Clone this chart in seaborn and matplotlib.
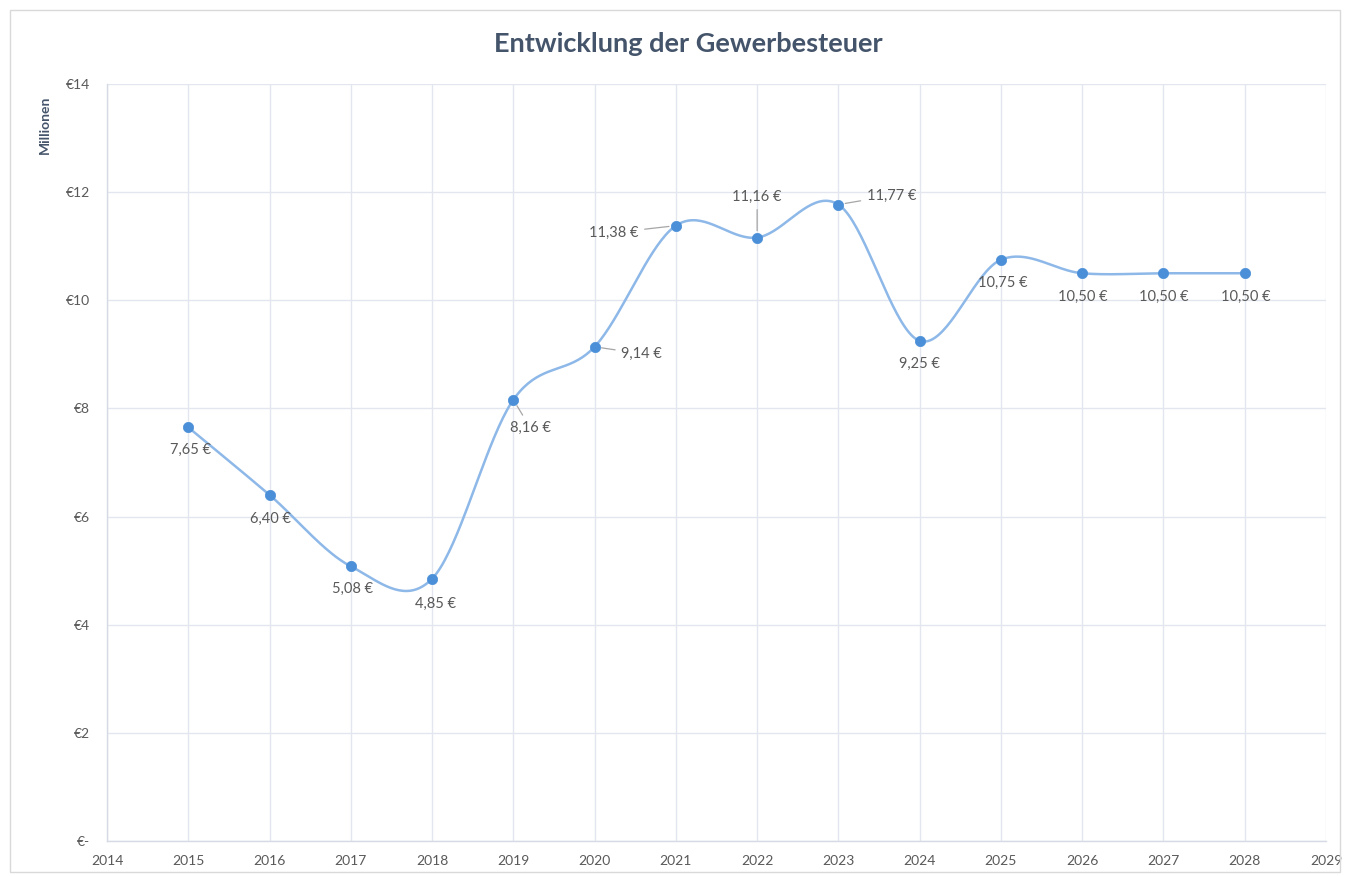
import numpy as np
import pandas as pd
import matplotlib
matplotlib.use("Agg")
import matplotlib.pyplot as plt
import seaborn as sns
from matplotlib.patches import Rectangle

years = [2015, 2016, 2017, 2018, 2019, 2020, 2021, 2022, 2023, 2024, 2025, 2026, 2027, 2028]
values = [7.65, 6.40, 5.08, 4.85, 8.16, 9.14, 11.38, 11.16, 11.77, 9.25, 10.75, 10.50, 10.50, 10.50]
labels = ["7,65 €", "6,40 €", "5,08 €", "4,85 €", "8,16 €", "9,14 €", "11,38 €", "11,16 €",
          "11,77 €", "9,25 €", "10,75 €", "10,50 €", "10,50 €", "10,50 €"]
y_ticks = [0, 2, 4, 6, 8, 10, 12, 14]
y_ticklabels = ["€-", "€2", "€4", "€6", "€8", "€10", "€12", "€14"]
x_ticks = list(range(2014, 2030))
title = "Entwicklung der Gewerbesteuer"
y_unit = "Millionen"

# label offsets in pixels (dx, dy up) and whether a leader line is drawn
offsets = [(2, -23), (1, -24), (2, -23), (3, -25), (17, -28), (47, -7), (-62, -7), (0, 41),
           (53, 9), (0, -23), (2, -23), (1, -24), (0, -24), (1, -24)]
leaders = [False, False, False, False, True, True, True, True, True, False, False, False, False, False]

sns.set_theme(style="white")
plt.rcParams['font.family'] = ['Lato', 'DejaVu Sans']

fig = plt.figure(figsize=(13.5, 8.76), dpi=100)
ax = fig.add_axes([107/1350, 35/876, 1219/1350, 757/876])

# Smoothed line (Bezier smoothing through the data points)
x = np.array(years, dtype=float)
y = np.array(values, dtype=float)
P = np.column_stack([x, y])
Pext = np.vstack([P[0], P, P[-1]])
t = np.linspace(0, 1, 40)
curve = []
for i in range(len(P) - 1):
    p0, p1, p2, p3 = Pext[i], Pext[i + 1], Pext[i + 2], Pext[i + 3]
    b0 = p1
    b1 = p1 + (p2 - p0) / 6.0
    b2 = p2 - (p3 - p1) / 6.0
    b3 = p2
    seg = ((1 - t)[:, None] ** 3) * b0 + 3 * ((1 - t)[:, None] ** 2) * t[:, None] * b1 \
        + 3 * (1 - t)[:, None] * (t[:, None] ** 2) * b2 + (t[:, None] ** 3) * b3
    curve.append(seg if i == 0 else seg[1:])
curve = np.vstack(curve)
curve_df = pd.DataFrame({"x": curve[:, 0], "y": curve[:, 1]})
sns.lineplot(data=curve_df, x="x", y="y", ax=ax, sort=False, estimator=None,
             color="#8DB8E8", linewidth=1.8, zorder=3)

pts = pd.DataFrame({"Jahr": years, "Wert": values})
sns.scatterplot(data=pts, x="Jahr", y="Wert", ax=ax, color="#4A8FD8", s=55,
                edgecolor="#4A8FD8", linewidth=0.5, zorder=4)

for xi, yi, lab, (dx, dy), ld in zip(years, values, labels, offsets, leaders):
    if ld:
        ax.annotate(lab, xy=(xi, yi), xytext=(dx, dy), textcoords="offset pixels",
                    ha="center", va="center", fontsize=10.5, color="#595959", zorder=5,
                    arrowprops=dict(arrowstyle="-", color="#A6A6A6", lw=0.9,
                                    shrinkA=2, shrinkB=5))
    else:
        ax.annotate(lab, xy=(xi, yi), xytext=(dx, dy), textcoords="offset pixels",
                    ha="center", va="center", fontsize=10.5, color="#595959", zorder=5)

ax.set_xlim(2014, 2029)
ax.set_ylim(0, 14)
ax.set_xticks(x_ticks)
ax.set_xticklabels([str(v) for v in x_ticks])
ax.set_yticks(y_ticks)
ax.set_yticklabels(y_ticklabels)
ax.grid(True, color="#E3E6EE", linewidth=1.0)
ax.set_axisbelow(True)
for s in ["top", "right"]:
    ax.spines[s].set_visible(False)
for s in ["left", "bottom"]:
    ax.spines[s].set_color("#D5DAE5")
    ax.spines[s].set_linewidth(1.0)
ax.tick_params(axis="both", length=0, labelsize=10, labelcolor="#595959")
ax.tick_params(axis="y", pad=12)
ax.tick_params(axis="x", pad=10)
ax.set_xlabel("")
ax.set_ylabel("")

fig.text(688/1350, 1 - 44/876, title, ha="center", va="center", fontsize=19.5,
         fontweight="bold", color="#44546A")
fig.text(45/1350, 1 - 125/876, y_unit, ha="center", va="center", rotation=90,
         fontsize=10, fontweight="bold", color="#44546A")

fig.patches.append(Rectangle((10/1350, 4/876), 1330/1350, 862/876, transform=fig.transFigure,
                             fill=False, edgecolor="#D9D9D9", linewidth=1.0))

fig.savefig("out.png", dpi=100)
